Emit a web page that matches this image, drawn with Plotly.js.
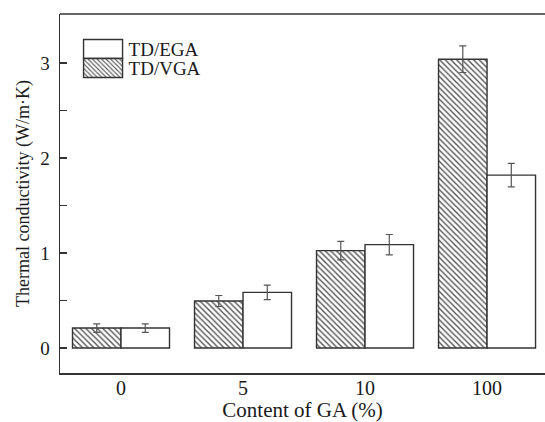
<!DOCTYPE html>
<html>
<head>
<meta charset="utf-8">
<script src="https://cdn.plot.ly/plotly-3.0.1.min.js"></script>
<style>html,body{margin:0;padding:0;background:#fff;}</style>
</head>
<body>
<div id="chart" style="width:545px;height:422px;"></div>
<script>
const categories = ['0', '5', '10', '100'];
const vgaValues = [0.21, 0.495, 1.025, 3.04];
const vgaErrors = [0.045, 0.058, 0.097, 0.14];
const egaValues = [0.21, 0.586, 1.088, 1.82];
const egaErrors = [0.045, 0.077, 0.107, 0.123];
const yTickVals = [0, 0.5, 1, 1.5, 2, 2.5, 3];
const yTickText = ['0', '', '1', '', '2', '', '3'];

const fam = 'Liberation Serif, Times New Roman, serif';
const col = '#1a1a1a';
const errStyle = {type: 'data', visible: true, color: '#555', thickness: 1.2, width: 3.5};

const traces = [
  {
    type: 'bar', name: 'TD/VGA', x: categories, y: vgaValues,
    error_y: Object.assign({array: vgaErrors}, errStyle),
    marker: {color: '#fff', line: {color: '#333', width: 1.4},
             pattern: {shape: '\\', fgcolor: '#555', bgcolor: '#fff', size: 4, solidity: 0.35}}
  },
  {
    type: 'bar', name: 'TD/EGA', x: categories, y: egaValues,
    error_y: Object.assign({array: egaErrors}, errStyle),
    marker: {color: '#fff', line: {color: '#333', width: 1.4}}
  }
];

const layout = {
  width: 545, height: 422,
  margin: {l: 60, r: 0, t: 14, b: 49},
  paper_bgcolor: '#fff', plot_bgcolor: '#fff',
  font: {family: fam, size: 19, color: col},
  barmode: 'group', bargap: 0.205, bargroupgap: 0,
  showlegend: true,
  legend: {x: 0.03, y: 0.955, xanchor: 'left', yanchor: 'top', traceorder: 'reversed',
           bgcolor: 'rgba(0,0,0,0)', font: {family: fam, size: 19, color: col},
           itemwidth: 44, tracegroupgap: 0},
  xaxis: {
    type: 'category', range: [-0.5, 3.475],
    showline: true, linecolor: '#333', linewidth: 1.5,
    ticks: '', ticklen: 0, showgrid: false, zeroline: false,
    tickfont: {family: fam, size: 20, color: col}, ticklabelstandoff: -4,
    title: {text: 'Content of GA (%)', font: {family: fam, size: 21, color: col}, standoff: 4}
  },
  yaxis: {
    range: [-0.263, 3.516],
    tickvals: yTickVals, ticktext: yTickText,
    ticks: 'inside', ticklen: 7, tickwidth: 1.2, tickcolor: '#333',
    showline: true, linecolor: '#333', linewidth: 1.5,
    showgrid: false, zeroline: false,
    tickfont: {family: fam, size: 19, color: col}, ticklabelstandoff: 5,
    title: {text: 'Thermal conductivity (W/m·K)', font: {family: fam, size: 18, color: col}, standoff: 6}
  },
  shapes: [
    {type: 'line', xref: 'paper', yref: 'paper', x0: 0, x1: 1, y0: 1, y1: 1,
     line: {color: '#333', width: 1.5}}
  ]
};

Plotly.newPlot('chart', traces, layout, {staticPlot: true}).then(function () {
  document.querySelectorAll('.legend .legendpoints path').forEach(function (p) {
    p.setAttribute('d', 'M-18,-9.5H21V9.5H-18Z');
  });
  const items = Array.from(document.querySelectorAll('.legend .traces'));
  const parseY = function (el) {
    const m = /translate\(([-\d.]+)[ ,]+([-\d.]+)\)/.exec(el.getAttribute('transform') || '');
    return m ? [parseFloat(m[1]), parseFloat(m[2])] : [0, 0];
  };
  items.sort(function (a, b) { return parseY(a)[1] - parseY(b)[1]; });
  if (items.length === 2) {
    const p0 = parseY(items[0]);
    items[1].setAttribute('transform', 'translate(' + p0[0] + ',' + (p0[1] + 19) + ')');
  }
});
</script>
</body>
</html>
